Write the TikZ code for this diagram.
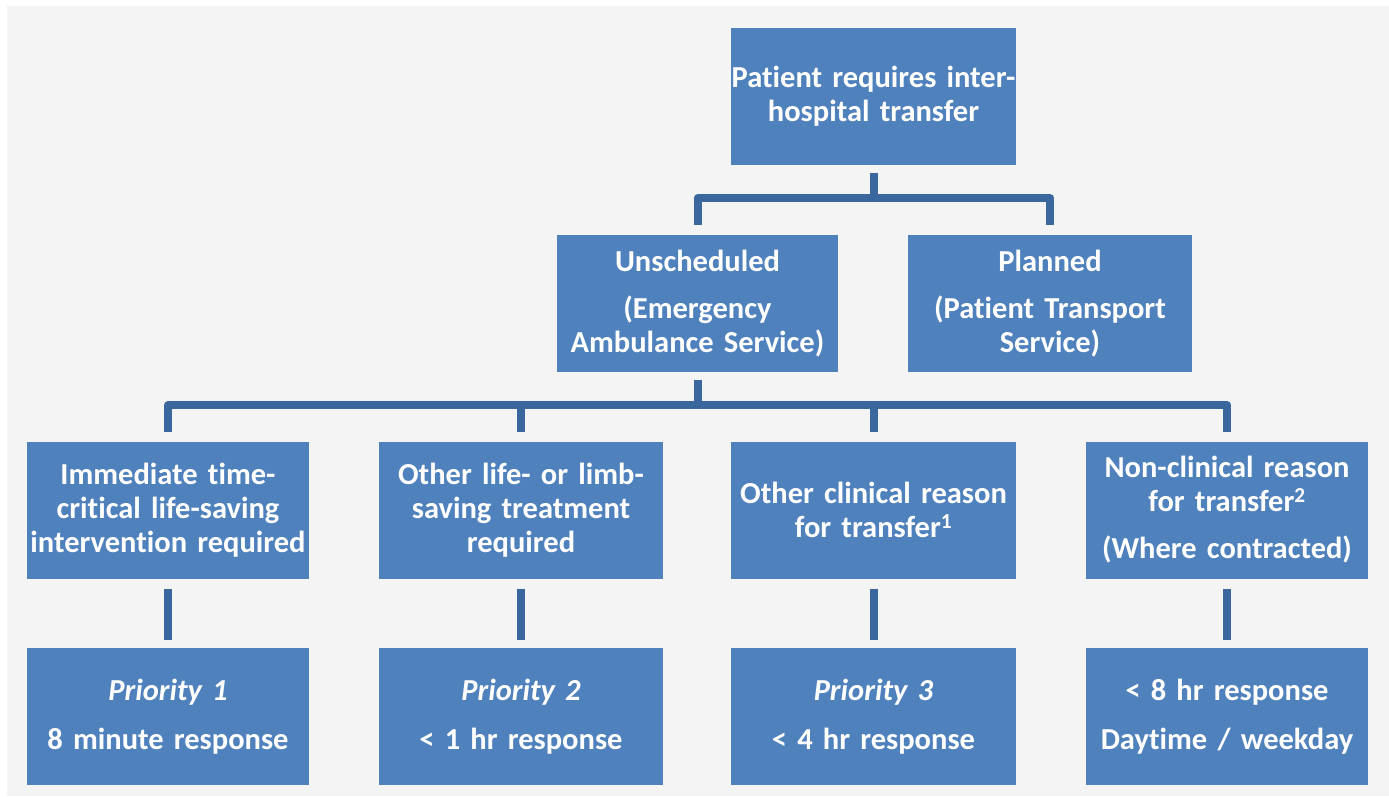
\documentclass[tikz,border=0pt]{standalone}
\usepackage{fontspec}
\setmainfont{Carlito}[WordSpace=0.8, Ligatures=NoCommon]
\usetikzlibrary{calc}
\definecolor{boxblue}{RGB}{79,129,189}
\definecolor{lineblue}{RGB}{58,104,158}
\definecolor{bggray}{RGB}{244,244,244}
\tikzset{
  box/.style={fill=boxblue, text=white, font=\bfseries\fontsize{30.5}{34}\selectfont,
    align=center, inner sep=0pt, minimum height=137pt, text width=#1, minimum width=#1},
  box/.default=284pt,
  conn/.style={draw=lineblue, line width=8pt, line join=round}
}
\begin{document}
\begin{tikzpicture}[x=1pt,y=1pt]
\useasboundingbox (0,0) rectangle (1389,-796);
\fill[white] (0,0) rectangle (1389,-796);
\fill[bggray] (7,-6) rectangle (1389,-796);
% level 1
\node[box=285pt] (top) at (873.5,-96.5) {Patient requires inter-\\hospital transfer};
% level 2
\node[box=281pt] (uns) at (697.5,-303.5) {Unscheduled\\[13pt](Emergency\\Ambulance Service)};
\node[box=284pt] (pla) at (1050,-303.5) {Planned\\[13pt](Patient Transport\\Service)};
% level 3
\node[box=282pt] (r1) at (168,-510) {Immediate time-\\critical life-saving\\intervention required};
\node[box=284pt] (r2) at (521,-510) {Other life- or limb-\\saving treatment\\required};
\node[box=285pt] (r3) at (873.5,-510) {Other clinical reason\\for transfer\textsuperscript{1}};
\node[box=282pt] (r4) at (1227,-510) {Non-clinical reason\\for transfer\textsuperscript{2}\\[13pt](Where contracted)};
% level 4
\node[box=282pt] (p1) at (168,-716.5) {\textit{Priority 1}\\[15pt]8 minute response};
\node[box=284pt] (p2) at (521,-716.5) {\textit{Priority 2}\\[15pt]{<} 1 hr response};
\node[box=285pt] (p3) at (873.5,-716.5) {\textit{Priority 3}\\[15pt]{<} 4 hr response};
\node[box=282pt] (p4) at (1227,-716.5) {{<} 8 hr response\\[15pt]Daytime / weekday};
% connectors
\draw[conn] ($(top.south)+(0,-8)$) -- ++(0,-25) -| ($(pla.north)+(0,10)$);
\draw[conn] ($(top.south)+(0,-33)$) -| ($(uns.north)+(0,10)$);
\draw[conn] ($(uns.south)+(0,-8)$) -- ++(0,-25) -| ($(r4.north)+(0,9)$);
\draw[conn] ($(uns.south)+(0,-33)$) -| ($(r1.north)+(0,9)$);
\draw[conn] ($(uns.south)+(0,-33)$) -| ($(r2.north)+(0,9)$);
\draw[conn] ($(uns.south)+(0,-33)$) -| ($(r3.north)+(0,9)$);
\draw[conn] ($(r1.south)+(0,-10)$) -- ($(p1.north)+(0,8)$);
\draw[conn] ($(r2.south)+(0,-10)$) -- ($(p2.north)+(0,8)$);
\draw[conn] ($(r3.south)+(0,-10)$) -- ($(p3.north)+(0,8)$);
\draw[conn] ($(r4.south)+(0,-10)$) -- ($(p4.north)+(0,8)$);
\end{tikzpicture}
\end{document}
